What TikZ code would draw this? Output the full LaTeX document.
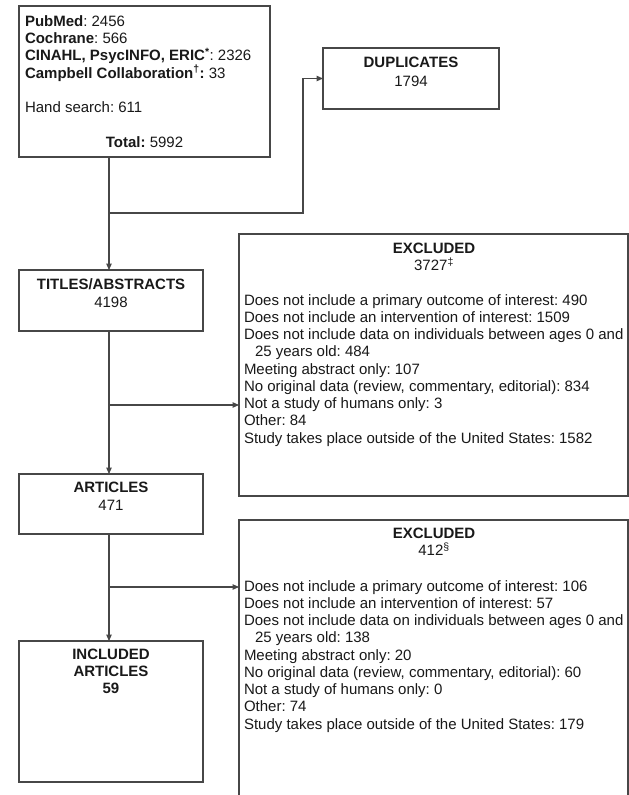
\documentclass[tikz,border=0pt]{standalone}
\usepackage{fontspec}
\setmainfont{Liberation Sans}
\usetikzlibrary{arrows.meta}
\frenchspacing
\begin{document}
\begin{tikzpicture}[x=1pt,y=-1pt,
  box/.style={draw=black!72, line width=1.1pt, rectangle, inner sep=0pt, outer sep=0pt, anchor=north west},
  txt/.style={inner sep=0pt, outer sep=0pt, text=black!90, font=\fontsize{15}{17.25}\selectfont\frenchspacing},
  conn/.style={draw=black!72, line width=1.1pt},
  arr/.style={conn, -{Triangle[length=6.5pt,width=5.5pt]}}]
\useasboundingbox (0,0) rectangle (629,795);
\clip (0,0) rectangle (629,795);
\fill[white] (0,0) rectangle (629,795);

% boxes
\node[box, minimum width=251pt, minimum height=151pt] (src) at (19,6) {};
\node[box, minimum width=176pt, minimum height=61pt] (dup) at (323,48) {};
\node[box, minimum width=184pt, minimum height=61pt] (titles) at (19,270) {};
\node[box, minimum width=389pt, minimum height=262pt] (exc1) at (239,234) {};
\node[box, minimum width=184pt, minimum height=60pt] (articles) at (19,474) {};
\node[box, minimum width=389pt, minimum height=300pt] (exc2) at (239,520) {};
\node[box, minimum width=184pt, minimum height=141pt] (incl) at (19,641) {};

% texts (base anchor = baseline of the last line)
\node[txt, anchor=base west, align=left] (srct) at (25,112.65)
  {\textbf{PubMed}: 2456\\\textbf{Cochrane}: 566\\\textbf{CINAHL, PsycINFO, ERIC\textsuperscript{*}}: 2326\\\textbf{Campbell Collaboration\textsuperscript{†}:} 33\\[17.25pt]Hand search: 611};
\node[txt, anchor=base] (tot) at (144.5,147.4) {\textbf{Total:} 5992};
\node[txt, anchor=base, align=center] (dupt) at (411,86.7) {\textbf{DUPLICATES}\\[1.75pt]1794};
\node[txt, anchor=base, align=center] (titlest) at (111,307.4) {\textbf{TITLES/ABSTRACTS}\\[0.75pt]4198};
\node[txt, anchor=base, align=center] (articlest) at (111,510.4) {\textbf{ARTICLES}\\[0.75pt]471};
\node[txt, anchor=base, align=center] (inclt) at (111,693.9) {\textbf{INCLUDED}\\\textbf{ARTICLES}\\\textbf{59}};

\node[txt, anchor=base, align=center] (exc1h) at (434,270.65) {\textbf{EXCLUDED}\\3727\textsuperscript{‡}};
\node[txt, anchor=base west, align=left] (exc1t) at (244,443)
  {Does not include a primary outcome of interest: 490\\
   Does not include an intervention of interest: 1509\\
   Does not include data on individuals between ages 0 and\\
   \hspace*{11pt}25 years old: 484\\
   Meeting abstract only: 107\\
   No original data (review, commentary, editorial): 834\\
   Not a study of humans only: 3\\
   Other: 84\\
   Study takes place outside of the United States: 1582};

\node[txt, anchor=base, align=center] (exc2h) at (434,555.65) {\textbf{EXCLUDED}\\412\textsuperscript{§}};
\node[txt, anchor=base west, align=left] (exc2t) at (244,729)
  {Does not include a primary outcome of interest: 106\\
   Does not include an intervention of interest: 57\\
   Does not include data on individuals between ages 0 and\\
   \hspace*{11pt}25 years old: 138\\
   Meeting abstract only: 20\\
   No original data (review, commentary, editorial): 60\\
   Not a study of humans only: 0\\
   Other: 74\\
   Study takes place outside of the United States: 179};

% connectors
\coordinate (j1) at (109,213);
\coordinate (k1) at (303,213);
\coordinate (j2) at (109,405);
\coordinate (j3) at (109,587);
\draw[arr] (src.south -| j1) -- (j1) -- (k1) |- (dup.west);
\draw[arr] (j1) -- (titles.north -| j1);
\draw[arr] (titles.south -| j1) -- (articles.north -| j1);
\draw[arr] (j2) -- (exc1.west |- j2);
\draw[arr] (articles.south -| j1) -- (incl.north -| j1);
\draw[arr] (j3) -- (exc2.west |- j3);
\end{tikzpicture}
\end{document}
